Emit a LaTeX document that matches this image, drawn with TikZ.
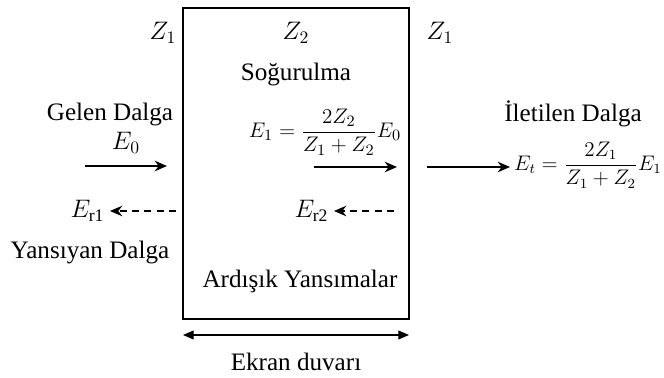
\documentclass[tikz,border=0pt]{standalone}
\usepackage{fontspec}
\setmainfont{Liberation Serif}
\usepackage{amsmath}
\usetikzlibrary{arrows.meta,positioning}

\begin{document}
\begin{tikzpicture}[
        x=0.02cm, y=-0.02cm,
        every node/.style={font=\fontsize{14.3}{17}\selectfont, inner sep=1pt},
        label/.style={anchor=center},
        formula/.style={anchor=center, font=\fontsize{12.2}{15}\selectfont},
        wave/.style={-{Stealth[length=7pt,width=6pt]}, line width=0.8pt},
        echo/.style={-{Stealth[length=7pt,width=6pt]}, dashed, dash pattern=on 4pt off 3pt, line width=0.8pt},
        span/.style={{Triangle[length=6pt,width=5pt]}-{Triangle[length=6pt,width=5pt]}, line width=0.6pt}
    ]
        \useasboundingbox (0,0) rectangle (664,378);
        \draw[line width=0.8pt] (183,8) rectangle (409,319);

        \node[label] (zleft) at (163,33) {$Z_1$};
        \node[label] (zwall) at (296,33) {$Z_2$};
        \node[label] (zright) at (440,33) {$Z_1$};
        \node[label] (absorb) at (296,74) {Soğurulma};

        \node[label] (incident) at (110,114) {Gelen Dalga};
        \node[label] (e0) at (126,143) {$E_0$};
        \coordinate (inA) at (85,166);
        \coordinate (inB) at (167,166);
        \draw[wave] (inA) -- (inB);

        \coordinate (r1A) at (176,211);
        \coordinate (r1B) at (110,211);
        \draw[echo] (r1A) -- (r1B);
        \node[label, left=2pt of r1B] (er1) {$E_{\mathrm{r1}}$};
        \node[label] (reflected) at (90,252) {Yansıyan Dalga};

        \node[formula] (e1) at (325,132) {$E_1=\dfrac{2Z_2}{Z_1+Z_2}E_0$};
        \coordinate (midA) at (314,167);
        \coordinate (midB) at (397,167);
        \draw[wave] (midA) -- (midB);

        \coordinate (r2A) at (394,211);
        \coordinate (r2B) at (334,211);
        \draw[echo] (r2A) -- (r2B);
        \node[label, left=2pt of r2B] (er2) {$E_{\mathrm{r2}}$};
        \node[label] (multi) at (300,281) {Ardışık Yansımalar};

        \coordinate (outA) at (427,167);
        \coordinate (outB) at (510,167);
        \draw[wave] (outA) -- (outB);
        \node[label] (transmitted) at (573,114) {İletilen Dalga};
        \node[formula, font=\fontsize{11.6}{14}\selectfont] (et) at (588,165) {$E_t=\dfrac{2Z_1}{Z_1+Z_2}E_1$};

        \coordinate (wallL) at (183,335);
        \coordinate (wallR) at (409,335);
        \draw[span] (wallL) -- (wallR);
        \node[label] (screen) at (296,362) {Ekran duvarı};
    \end{tikzpicture}
\end{document}
